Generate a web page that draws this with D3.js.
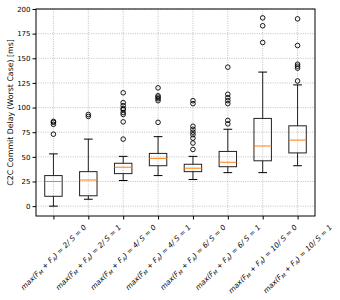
<!DOCTYPE html>
<html>
<head>
<meta charset="utf-8">
<script src="https://cdn.jsdelivr.net/npm/d3@7"></script>
<style>
body { margin: 0; background: #fff; }
svg { font-family: "DejaVu Sans", sans-serif; }
</style>
</head>
<body>
<svg id="chart" width="340" height="300"></svg>
<script>
// x categories: max(F_M + F_A) / S
var faults = ["2", "2", "4", "4", "6", "6", "10", "10"];
var sValues = ["0", "1", "0", "1", "0", "1", "0", "1"];

// box stats (ms)
var whiskerLow = [0, 7, 26, 31, 27, 34, 34, 41];
var q1 = [10, 10.5, 33, 41, 35, 40, 46, 54];
var medians = [25, 26.5, 39.5, 48.5, 38.5, 44.5, 61, 67];
var q3 = [31, 35, 43.5, 53.5, 42.5, 55.5, 89, 81.5];
var whiskerHigh = [53, 68, 50.5, 70.5, 50.5, 78, 136, 123];
var outliers = [
    [73, 83, 85, 86],
    [91, 93],
    [68, 85.5, 93, 95, 98, 99, 102, 105, 115],
    [85, 107, 109, 110.5, 112, 120],
    [57.5, 64, 69, 72.5, 75, 78, 81, 104, 107],
    [83.5, 87, 104, 107, 110, 113.5, 141],
    [166, 183, 191],
    [127, 140, 142, 144, 163, 190]
];
var yTicks = [0, 25, 50, 75, 100, 125, 150, 175, 200];

var svg = d3.select("#chart");
var margin = {left: 36, right: 25, top: 9, bottom: 84};
var width = 340 - margin.left - margin.right;
var height = 300 - margin.top - margin.bottom;

var idx = d3.range(faults.length);
var x = d3.scaleLinear().domain([0.5, faults.length + 0.5]).range([0, width]);
var y = d3.scaleLinear().domain([-10, 200]).range([height, 0]);
var boxW = x(1.25) - x(1);

var g = svg.append("g").attr("transform", "translate(" + margin.left + "," + margin.top + ")");

// grid
g.append("g").selectAll("line").data(yTicks).enter().append("line")
    .attr("x1", 0).attr("x2", width)
    .attr("y1", function(d){ return y(d); }).attr("y2", function(d){ return y(d); })
    .attr("stroke", "#a8a8a8").attr("stroke-width", 0.7).attr("stroke-dasharray", "1,1.3");
g.append("g").selectAll("line").data(idx).enter().append("line")
    .attr("x1", function(i){ return x(i + 1); }).attr("x2", function(i){ return x(i + 1); })
    .attr("y1", 0).attr("y2", height)
    .attr("stroke", "#a8a8a8").attr("stroke-width", 0.7).attr("stroke-dasharray", "1,1.3");

// boxes
var boxes = g.append("g").selectAll("g").data(idx).enter().append("g");
boxes.append("line")
    .attr("x1", function(i){ return x(i + 1); }).attr("x2", function(i){ return x(i + 1); })
    .attr("y1", function(i){ return y(whiskerLow[i]); }).attr("y2", function(i){ return y(q1[i]); })
    .attr("stroke", "#222").attr("stroke-width", 1);
boxes.append("line")
    .attr("x1", function(i){ return x(i + 1); }).attr("x2", function(i){ return x(i + 1); })
    .attr("y1", function(i){ return y(q3[i]); }).attr("y2", function(i){ return y(whiskerHigh[i]); })
    .attr("stroke", "#222").attr("stroke-width", 1);
boxes.append("line")
    .attr("x1", function(i){ return x(i + 1) - boxW / 2; }).attr("x2", function(i){ return x(i + 1) + boxW / 2; })
    .attr("y1", function(i){ return y(whiskerLow[i]); }).attr("y2", function(i){ return y(whiskerLow[i]); })
    .attr("stroke", "#000").attr("stroke-width", 1);
boxes.append("line")
    .attr("x1", function(i){ return x(i + 1) - boxW / 2; }).attr("x2", function(i){ return x(i + 1) + boxW / 2; })
    .attr("y1", function(i){ return y(whiskerHigh[i]); }).attr("y2", function(i){ return y(whiskerHigh[i]); })
    .attr("stroke", "#000").attr("stroke-width", 1);
boxes.append("rect")
    .attr("x", function(i){ return x(i + 1) - boxW; })
    .attr("width", boxW * 2)
    .attr("y", function(i){ return y(q3[i]); })
    .attr("height", function(i){ return y(q1[i]) - y(q3[i]); })
    .attr("fill", "none").attr("stroke", "#222").attr("stroke-width", 1);
boxes.append("line")
    .attr("x1", function(i){ return x(i + 1) - boxW; }).attr("x2", function(i){ return x(i + 1) + boxW; })
    .attr("y1", function(i){ return y(medians[i]); }).attr("y2", function(i){ return y(medians[i]); })
    .attr("stroke", "#ff7f0e").attr("stroke-width", 1);
boxes.each(function(i){
    d3.select(this).selectAll("circle").data(outliers[i]).enter().append("circle")
        .attr("cx", x(i + 1))
        .attr("cy", function(d){ return y(d); })
        .attr("r", 2.3)
        .attr("fill", "none").attr("stroke", "#000").attr("stroke-width", 0.9);
});

// frame
g.append("rect").attr("width", width).attr("height", height)
    .attr("fill", "none").attr("stroke", "#000").attr("stroke-width", 1);

// y axis
var yAxis = g.append("g").call(d3.axisLeft(y).tickValues(yTicks).tickSize(3.5).tickPadding(2));
yAxis.select(".domain").remove();
yAxis.selectAll("text").attr("font-size", "7px").attr("font-family", "DejaVu Sans").attr("fill", "#000");

// x axis ticks
var xAxis = g.append("g").attr("transform", "translate(0," + height + ")")
    .call(d3.axisBottom(x).tickValues(idx.map(function(i){ return i + 1; })).tickSize(3.5).tickFormat(""));
xAxis.select(".domain").remove();

// x labels, rotated 45 and centred on ticks like matplotlib
var fs = 7.3;
idx.forEach(function(i){
    var lg = g.append("g");
    var t = lg.append("text")
        .attr("font-size", fs + "px").attr("font-style", "italic")
        .attr("text-anchor", "middle").attr("dy", "0.35em");
    t.append("tspan").text("max(F");
    t.append("tspan").attr("font-size", (fs * 0.7) + "px").attr("dy", "0.25em").text("M");
    t.append("tspan").attr("dy", "-0.175em").text(" + F");
    t.append("tspan").attr("font-size", (fs * 0.7) + "px").attr("dy", "0.25em").text("A");
    t.append("tspan").attr("dy", "-0.175em").text(") = " + faults[i] + "/ S = " + sValues[i]);
    var L = t.node().getComputedTextLength();
    var half = (L + fs * 1.1) * Math.SQRT1_2 / 2;
    lg.attr("transform", "translate(" + x(i + 1) + "," + (height + 7 + half) + ") rotate(-45)");
});

// y label
svg.append("text")
    .attr("transform", "translate(10," + (margin.top + height / 2) + ") rotate(-90)")
    .attr("text-anchor", "middle").attr("dy", "0.35em")
    .attr("font-size", "7.8px")
    .text("C2C Commit Delay (Worst Case) [ms]");
</script>
</body>
</html>
